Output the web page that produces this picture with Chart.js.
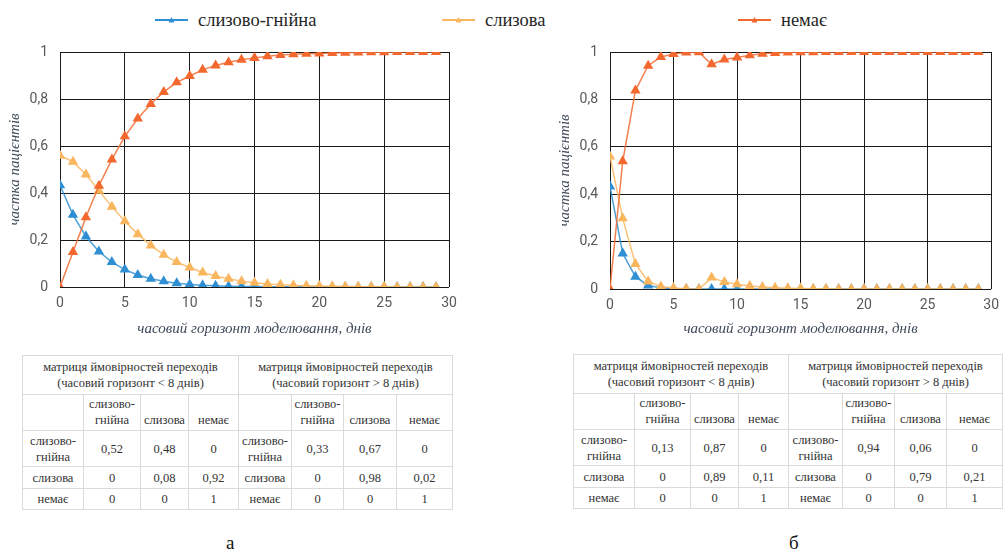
<!DOCTYPE html>
<html><head><meta charset="utf-8">
<script src="https://cdn.jsdelivr.net/npm/chart.js@4.4.1/dist/chart.umd.min.js"></script>
<style>
html,body{margin:0;padding:0;background:#fff;width:1007px;height:553px;overflow:hidden;position:relative;}
.cv{position:absolute;top:0;}
.leg{position:absolute;top:9px;height:22px;display:flex;align-items:center;font-family:'Liberation Serif','Times New Roman',Times,'DejaVu Serif',serif;font-size:18.5px;color:#262626;white-space:nowrap;}
.leg svg{margin-right:10px;}
table.m{position:absolute;border-collapse:collapse;table-layout:fixed;font-family:'Liberation Serif','Times New Roman',Times,'DejaVu Serif',serif;font-size:12.5px;color:#333;}
table.m td{border:1px solid #dadada;text-align:center;padding:0;line-height:16px;}
table.m tr.h2 td{vertical-align:bottom;padding-bottom:2px;}
.cap{position:absolute;top:532px;font-family:'Liberation Serif','Times New Roman',Times,serif;font-size:19px;color:#111;}
</style></head>
<body>
<div id="legend"></div>
<canvas id="ca" class="cv" style="left:0px" width="480" height="345"></canvas>
<canvas id="cb" class="cv" style="left:550px" width="457" height="345"></canvas>
<div id="tables"></div>
<div class="cap" style="left:226px">а</div>
<div class="cap" style="left:789px">б</div>
<script>
// ---- data ----
const days = [0,1,2,3,4,5,6,7,8,9,10,11,12,13,14,15,16,17,18,19,20,21,22,23,24,25,26,27,28,29];
const seriesNames = ['слизово-гнійна','слизова','немає'];
const aBlue   = [0.433,0.307,0.215,0.151,0.106,0.074,0.051,0.035,0.024,0.016,0.011,0.007,0.005,0.003,0.002,0.002,0.001,0.001,0.001,0,0,0,0,0,0,0,0,0,0,0];
const aOrange = [0.559,0.533,0.479,0.410,0.342,0.280,0.225,0.177,0.137,0.106,0.083,0.062,0.047,0.035,0.025,0.018,0.013,0.010,0.007,0.005,0.004,0.003,0.002,0.001,0.001,0.001,0,0,0,0];
const aRed    = [0,0.149,0.297,0.431,0.543,0.641,0.717,0.779,0.830,0.871,0.898,0.924,0.943,0.956,0.967,0.975,0.982,0.987,0.990,0.993,0.994,0.996,0.997,0.998,0.999,0.999,1,1,1,1];
const bBlue   = [0.433,0.150,0.052,0.015,0.005,0.001,0,0,0,0,0,0,0,0,0,0,0,0,0,0,0,0,0,0,0,0,0,0,0,0];
const bOrange = [0.559,0.298,0.106,0.032,0.011,0.004,0.001,0,0.048,0.030,0.020,0.013,0.008,0.005,0.003,0.002,0.001,0.001,0,0,0,0,0,0,0,0,0,0,0,0];
const bRed    = [0,0.539,0.838,0.942,0.979,0.992,0.998,0.999,0.948,0.968,0.977,0.986,0.993,0.996,0.998,0.999,0.999,1,1,1,1,1,1,1,1,1,1,1,1,1];
const yTickLabels = ['0','0,2','0,4','0,6','0,8','1'];
const xTickLabels = ['0','5','10','15','20','25','30'];
const xTitle = 'часовий горизонт моделювання, днів';
const yTitle = 'частка пацієнтів';
const stateLabels = ['слизово-гнійна','слизова','немає'];
const tableTitleLt = ['матриця ймовірностей переходів','(часовий горизонт < 8 днів)'];
const tableTitleGt = ['матриця ймовірностей переходів','(часовий горизонт > 8 днів)'];
const matA1 = [['0,52','0,48','0'],['0','0,08','0,92'],['0','0','1']];
const matA2 = [['0,33','0,67','0'],['0','0,98','0,02'],['0','0','1']];
const matB1 = [['0,13','0,87','0'],['0','0,89','0,11'],['0','0','1']];
const matB2 = [['0,94','0,06','0'],['0','0,79','0,21'],['0','0','1']];

// ---- styles ----
const colors = ['#2f8fd2','#f9b65e','#f3682f'];
const lineColors = ['rgba(47,143,210,0.85)','rgba(249,182,94,0.85)','rgba(243,104,47,0.85)'];
const drawOrder = [2,1,0];
const serifFam = "'Liberation Serif', 'Times New Roman', 'DejaVu Serif', serif";

// legend
const legendPos = [155,442,738];
const leg = document.getElementById('legend');
seriesNames.forEach((n,i)=>{
  const d = document.createElement('div');
  d.className='leg'; d.style.left = legendPos[i]+'px';
  d.innerHTML = '<svg width="33" height="10"><line x1="0" y1="5" x2="33" y2="5" stroke="'+colors[i]+'" stroke-width="2"/><polygon points="16.5,2 19.5,7.5 13.5,7.5" fill="'+colors[i]+'"/></svg><span>'+n+'</span>';
  leg.appendChild(d);
});

function makeChart(id, series, padRight, xAxisH){
  const ds = series.map((vals,i)=>({
    label: seriesNames[i],
    data: days.map((d,k)=>({x:d,y:vals[k]})),
    order: drawOrder[i],
    borderColor: lineColors[i],
    backgroundColor: colors[i],
    pointBackgroundColor: colors[i],
    pointBorderColor: colors[i],
    pointStyle: 'triangle',
    pointRadius: 4.5,
    borderWidth: 1.5,
    tension: 0
  }));
  return new Chart(document.getElementById(id), {
    type:'line',
    data:{datasets:ds},
    options:{
      responsive:false, animation:false, devicePixelRatio:1,
      layout:{padding:{top:52,right:padRight,bottom:0,left:0}},
      plugins:{legend:{display:false},tooltip:{enabled:false}},
      scales:{
        x:{type:'linear',min:0,max:30,
          ticks:{stepSize:5,padding:8,color:'#595959',font:{family:'Roboto',size:14},
            callback:(v)=>xTickLabels[Math.round(v/5)]},
          grid:{color:'#1a1a1a',lineWidth:1,drawTicks:false},
          border:{display:false},
          title:{display:true,text:xTitle,color:'#3f4a5a',font:{family:serifFam,size:15,style:'italic'},padding:{top:0,bottom:7}},
          afterFit:(s)=>{s.height=xAxisH;}
        },
        y:{min:0,max:1,
          ticks:{stepSize:0.2,padding:12,color:'#595959',font:{family:'Roboto',size:14},
            callback:(v)=>yTickLabels[Math.round(v*5)]},
          grid:{color:'#1a1a1a',lineWidth:1,drawTicks:false},
          border:{display:false},
          title:{display:true,text:yTitle,color:'#3f4a5a',font:{family:serifFam,size:15,style:'italic'},padding:{top:6,bottom:0}},
          afterFit:(s)=>{s.width=60;}
        }
      }
    }
  });
}
makeChart('ca',[aBlue,aOrange,aRed],31,58);
makeChart('cb',[bBlue,bOrange,bRed],8,56);

// tables
function buildTable(left, top, widths, m1, m2){
  const t = document.createElement('table');
  t.className='m'; t.style.left=left+'px'; t.style.top=top+'px';
  let cg='<colgroup>'+widths.map(w=>'<col style="width:'+w+'px">').join('')+'</colgroup>';
  const esc = (s)=>s.replace(/</g,'&lt;').replace(/>/g,'&gt;');
  const hd = (arr)=>arr.map(esc).join('<br>');
  const lbl = (s)=>s.replace('-','-<br>');
  let h = cg;
  h += '<tr style="height:39px"><td colspan="4">'+hd(tableTitleLt)+'</td><td colspan="4">'+hd(tableTitleGt)+'</td></tr>';
  h += '<tr class="h2" style="height:36px"><td></td>'+stateLabels.map(s=>'<td>'+lbl(s)+'</td>').join('')+'<td></td>'+stateLabels.map(s=>'<td>'+lbl(s)+'</td>').join('')+'</tr>';
  const rh=[36,22,21];
  for(let r=0;r<3;r++){
    h += '<tr style="height:'+rh[r]+'px"><td>'+lbl(stateLabels[r])+'</td>'+m1[r].map(v=>'<td>'+v+'</td>').join('')+'<td>'+lbl(stateLabels[r])+'</td>'+m2[r].map(v=>'<td>'+v+'</td>').join('')+'</tr>';
  }
  t.innerHTML=h;
  document.getElementById('tables').appendChild(t);
}
buildTable(22,355,[61,57,48,50,53,52,53,56],matA1,matA2);
buildTable(573,354,[61,56,48,50,54,52,52,56],matB1,matB2);
</script>
</body></html>
